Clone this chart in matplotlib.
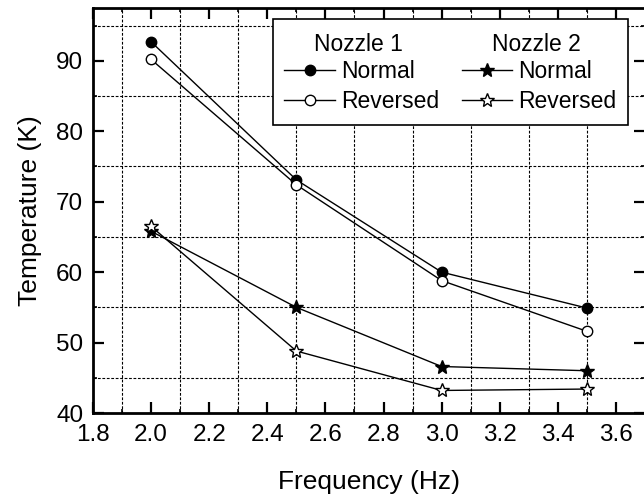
import matplotlib
matplotlib.use("Agg")
import matplotlib.pyplot as plt
from matplotlib.lines import Line2D
from matplotlib.ticker import MultipleLocator

plt.rcParams["font.family"] = ["Liberation Sans", "DejaVu Sans"]

# data
freq = [2.0, 2.5, 3.0, 3.5]
n1_normal = [92.7, 73.1, 60.0, 54.9]
n1_reversed = [90.2, 72.4, 58.8, 51.6]
n2_normal = [65.8, 55.0, 46.6, 46.0]
n2_reversed = [66.5, 48.8, 43.2, 43.4]

xtick_labels = ["1.8", "2.0", "2.2", "2.4", "2.6", "2.8", "3.0", "3.2", "3.4", "3.6"]

fig = plt.figure(figsize=(6.44, 5.01), dpi=100)
ax = fig.add_axes([93 / 644, 88 / 501, 552 / 644, 405 / 501])

line_kw = dict(color="black", linewidth=1.0, markeredgewidth=1.0, zorder=3)
h1, = ax.plot(freq, n1_normal, marker="o", markersize=7.5, markerfacecolor="black", **line_kw)
h2, = ax.plot(freq, n1_reversed, marker="o", markersize=7.5, markerfacecolor="white", **line_kw)
h3, = ax.plot(freq, n2_normal, marker="*", markersize=10, markerfacecolor="black", **line_kw)
h4, = ax.plot(freq, n2_reversed, marker="*", markersize=10, markerfacecolor="white", **line_kw)

ax.set_xlim(1.8, 3.7)
ax.set_ylim(40, 97.5)
ax.xaxis.set_minor_locator(MultipleLocator(0.1))
ax.yaxis.set_major_locator(MultipleLocator(10))
ax.yaxis.set_minor_locator(MultipleLocator(5))
ax.set_xticks([float(t) for t in xtick_labels])
ax.set_xticklabels(xtick_labels)

# grid sits on the minor ticks
ax.grid(which="minor", color="black", linestyle=(0, (2.5, 1.5)), linewidth=0.8)
ax.grid(which="major", visible=False)
ax.set_axisbelow(True)

ax.tick_params(which="both", direction="in", top=True, right=True, labelsize=17.5)
ax.tick_params(axis="x", pad=8)
ax.tick_params(axis="y", pad=7)
ax.tick_params(which="major", length=8, width=1.6)
ax.tick_params(which="minor", length=3, width=1.2)
for s in ax.spines.values():
    s.set_linewidth(2.0)

ax.set_xlabel("Frequency (Hz)", fontsize=19)
ax.set_ylabel("Temperature (K)", fontsize=19)
ax.xaxis.set_label_coords(0.5, -0.141)
ax.yaxis.set_label_coords(-0.092, 0.5)

blank = Line2D([], [], linestyle="none")
leg = ax.legend(
    [blank, h1, h2, blank, h3, h4],
    [" ", "Normal", "Reversed", " ", "Normal", "Reversed"],
    ncol=2, loc="upper left", bbox_to_anchor=(0.326, 0.973), borderaxespad=0,
    fontsize=16.5, handlelength=2.2, handletextpad=0.26, columnspacing=1.0,
    labelspacing=0.3, borderpad=0.5, frameon=True, fancybox=False,
)
leg.get_frame().set_edgecolor("black")
leg.get_frame().set_linewidth(1.2)
leg.get_frame().set_alpha(1)

ax.text(0.480, 0.909, "Nozzle 1", transform=ax.transAxes, ha="center", va="center", fontsize=16.5, zorder=10)
ax.text(0.804, 0.909, "Nozzle 2", transform=ax.transAxes, ha="center", va="center", fontsize=16.5, zorder=10)

fig.savefig("out.png", dpi=100)
